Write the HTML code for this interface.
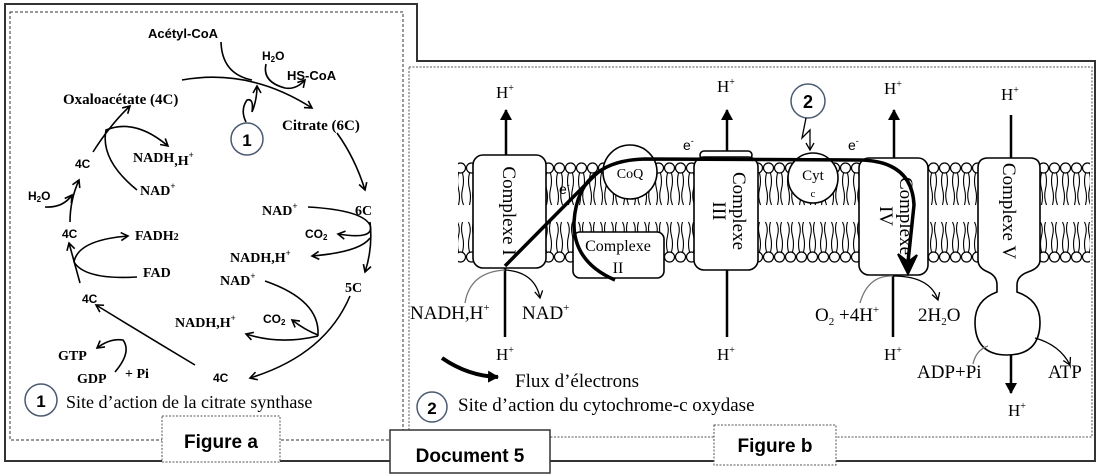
<!DOCTYPE html>
<html><head><meta charset="utf-8"><style>
html,body{margin:0;padding:0;background:#fff}
svg{display:block}
.sb{font-family:"Liberation Sans",sans-serif;font-weight:bold}
.rb{font-family:"Liberation Serif",serif;font-weight:bold}
.r{font-family:"Liberation Serif",serif}
</style></head><body>
<svg width="1100" height="476" viewBox="0 0 1100 476" xmlns="http://www.w3.org/2000/svg">
<defs>
<marker id="a" markerWidth="10" markerHeight="10" refX="8" refY="5" orient="auto" markerUnits="userSpaceOnUse"><path d="M1,1 L8,5 L1,9" fill="none" stroke="#000" stroke-width="1.6"/></marker>
<marker id="t" markerWidth="12" markerHeight="12" refX="10" refY="6" orient="auto" markerUnits="userSpaceOnUse"><path d="M0,0 L11,6 L0,12 Z" fill="#000"/></marker>
<marker id="g" markerWidth="10" markerHeight="10" refX="8" refY="5" orient="auto" markerUnits="userSpaceOnUse"><path d="M1,1 L8,5 L1,9" fill="none" stroke="#000" stroke-width="1.3"/></marker>
<pattern id="lip" x="455" y="161" width="11" height="104" patternUnits="userSpaceOnUse">
<circle cx="5.5" cy="7" r="5" fill="#fff" stroke="#000" stroke-width="1.2"/>
<path d="M3.5,12 q-2,8 0,16 q2,8 0,16 M7.5,12 q2,8 0,16 q-2,8 1,16" fill="none" stroke="#000" stroke-width="1.1"/>
<path d="M3.5,91 q-2,-8 0,-16 q2,-8 -1,-14 M7.5,91 q2,-8 0,-16 q-2,-8 0,-14" fill="none" stroke="#000" stroke-width="1.1"/>
<circle cx="5.5" cy="96" r="5" fill="#fff" stroke="#000" stroke-width="1.2"/>
</pattern>
</defs>

<path d="M5,4 L417,4 L417,61 L1095,61 L1095,461 L5,461 Z" fill="none" stroke="#333" stroke-width="2"/>
<rect x="10" y="12" width="393" height="428" fill="none" stroke="#333" stroke-width="1" stroke-dasharray="3,2"/>
<rect x="409" y="67" width="683" height="370" fill="none" stroke="#555" stroke-width="1" stroke-dasharray="2,1.5"/>
<rect x="162" y="416" width="118" height="46" fill="#fff" stroke="#555" stroke-width="1" stroke-dasharray="2,1.5"/>
<text x="221" y="448" class="sb" font-size="19" text-anchor="middle">Figure a</text>
<rect x="714" y="425" width="122" height="40" fill="#fff" stroke="#555" stroke-width="1" stroke-dasharray="2,1.5"/>
<text x="775" y="452" class="sb" font-size="19" text-anchor="middle">Figure b</text>
<rect x="390" y="430" width="160" height="43" fill="#fff" stroke="#333" stroke-width="1.5"/>
<text x="470" y="462" class="sb" font-size="19" text-anchor="middle">Document 5</text>

<g fill="#000">
<text x="148" y="38" class="sb" font-size="13">Acétyl-CoA</text>
<text x="262" y="60" class="sb" font-size="12">H<tspan font-size="8" dy="2">2</tspan><tspan dy="-2">O</tspan></text>
<text x="287" y="80" class="sb" font-size="13">HS-CoA</text>
<text x="63" y="104" class="rb" font-size="15">Oxaloacétate (4C)</text>
<text x="282" y="130" class="rb" font-size="15">Citrate (6C)</text>
<text x="75" y="168" class="sb" font-size="12">4C</text>
<text x="133" y="162" class="rb" font-size="14">NADH<tspan dy="3">,H</tspan><tspan font-size="9" dy="-7">+</tspan></text>
<text x="140" y="195" class="rb" font-size="14">NAD<tspan font-size="9" dy="-6">+</tspan></text>
<text x="28" y="200" class="sb" font-size="12">H<tspan font-size="8" dy="2">2</tspan><tspan dy="-2">O</tspan></text>
<text x="62" y="238" class="sb" font-size="12">4C</text>
<text x="135" y="240" class="rb" font-size="14">FADH<tspan font-size="10">2</tspan></text>
<text x="143" y="277" class="rb" font-size="14">FAD</text>
<text x="262" y="215" class="rb" font-size="14">NAD<tspan font-size="9" dy="-6">+</tspan></text>
<text x="355" y="215" class="rb" font-size="14">6C</text>
<text x="305" y="238" class="sb" font-size="12">CO<tspan font-size="8" dy="2">2</tspan></text>
<text x="230" y="262" class="rb" font-size="14">NADH,H<tspan font-size="9" dy="-6">+</tspan></text>
<text x="220" y="285" class="rb" font-size="14">NAD<tspan font-size="9" dy="-6">+</tspan></text>
<text x="345" y="292" class="rb" font-size="14">5C</text>
<text x="82" y="303" class="sb" font-size="12">4C</text>
<text x="175" y="327" class="rb" font-size="14">NADH,H<tspan font-size="9" dy="-6">+</tspan></text>
<text x="263" y="323" class="sb" font-size="12">CO<tspan font-size="8" dy="2">2</tspan></text>
<text x="58" y="360" class="rb" font-size="14">GTP</text>
<text x="77" y="383" class="rb" font-size="14">GDP</text>
<text x="125" y="378" class="rb" font-size="14">+ Pi</text>
<text x="213" y="382" class="sb" font-size="12">4C</text>
</g>
<circle cx="247" cy="139" r="16" fill="#fff" stroke="#4a5a70" stroke-width="1.5"/>
<text x="247" y="146" class="sb" font-size="17" text-anchor="middle">1</text>
<circle cx="41" cy="400" r="16" fill="#fff" stroke="#4a5a70" stroke-width="1.5"/>
<text x="41" y="407" class="sb" font-size="17" text-anchor="middle">1</text>
<text x="66" y="408" class="r" font-size="18">Site d’action de la citrate synthase</text>

<g fill="none" stroke="#000" stroke-width="1.6">
<path d="M182,80 Q250,68 312,108" marker-end="url(#a)"/>
<path d="M221,42 Q222,74 252,80"/>
<path d="M266,64 Q262,82 285,88 Q296,90 305,80" marker-end="url(#a)"/>
<path d="M246,122 Q240,110 247,100 Q254,98 252,112 Q257,100 257,86" marker-end="url(#a)"/>
<path d="M337,133 Q355,158 365,190" marker-end="url(#a)"/>
<path d="M370,222 Q373,248 365,272" marker-end="url(#a)"/>
<path d="M308,207 Q362,210 370,225 Q375,240 338,234" marker-end="url(#a)"/>
<path d="M370,238 Q360,252 312,256" marker-end="url(#a)"/>
<path d="M350,296 Q325,355 250,378" marker-end="url(#a)"/>
<path d="M265,281 Q320,300 318,335 Q305,330 292,320" marker-end="url(#a)"/>
<path d="M318,336 Q280,345 246,334" marker-end="url(#a)"/>
<path d="M195,365 Q145,335 96,305" marker-end="url(#a)"/>
<path d="M115,372 Q132,352 123,340 Q110,338 97,348" marker-end="url(#a)"/>
<path d="M80,283 Q75,265 69,243" marker-end="url(#a)"/>
<path d="M137,277 Q85,280 74,262 Q78,240 128,236" marker-end="url(#a)"/>
<path d="M70,222 Q70,200 79,180" marker-end="url(#a)"/>
<path d="M45,207 Q63,208 72,195" marker-end="url(#a)"/>
<path d="M93,152 Q110,125 130,106" marker-end="url(#a)"/>
<path d="M137,190 Q100,160 106,130 Q135,118 168,146" marker-end="url(#a)"/>
</g>

<rect x="458" y="161" width="632" height="104" fill="url(#lip)"/>

<g stroke="#000" stroke-width="2.5" fill="none">
<line x1="506" y1="155" x2="506" y2="110" marker-end="url(#t)"/>
<line x1="727" y1="152" x2="727" y2="110" marker-end="url(#t)"/>
<line x1="894" y1="158" x2="894" y2="110" marker-end="url(#t)"/>
<line x1="1011" y1="158" x2="1011" y2="115"/>
<line x1="505" y1="268" x2="505" y2="337"/>
<line x1="727" y1="270" x2="727" y2="337"/>
<line x1="893" y1="275" x2="893" y2="337"/>
<line x1="1011" y1="355" x2="1011" y2="393" marker-end="url(#t)"/>
</g>
<g class="r" font-size="17">
<text x="496" y="98">H<tspan font-size="10" dy="-7">+</tspan></text>
<text x="717" y="92">H<tspan font-size="10" dy="-7">+</tspan></text>
<text x="884" y="94">H<tspan font-size="10" dy="-7">+</tspan></text>
<text x="1001" y="100">H<tspan font-size="10" dy="-7">+</tspan></text>
<text x="496" y="360">H<tspan font-size="10" dy="-7">+</tspan></text>
<text x="717" y="360">H<tspan font-size="10" dy="-7">+</tspan></text>
<text x="884" y="360">H<tspan font-size="10" dy="-7">+</tspan></text>
<text x="1008" y="416">H<tspan font-size="10" dy="-7">+</tspan></text>
</g>

<g fill="#fff" stroke="#000" stroke-width="1.6">
<rect x="473" y="155" width="73" height="113" rx="10"/>
<rect x="573" y="232" width="91" height="46" rx="7"/>
<circle cx="630" cy="172" r="27"/>
<rect x="700" y="151" width="52" height="8" rx="4"/>
<rect x="694" y="157" width="64" height="113" rx="10"/>
<circle cx="813" cy="178" r="25"/>
<rect x="859" y="158" width="69" height="117" rx="10"/>
<path d="M988,158 L1030,158 Q1040,158 1040,168 L1040,260 Q1040,268 1028,272 Q1017,276 1017,285 L1017,292 Q1040,300 1040,322 Q1040,355 1007,355 Q975,355 975,322 Q975,300 997,292 L997,285 Q997,276 988,272 Q978,268 978,260 L978,168 Q978,158 988,158 Z"/>
</g>
<g class="r" font-size="19">
<text transform="translate(503,211) rotate(90)" text-anchor="middle">Complexe I</text>
<text transform="translate(733,211) rotate(90)" text-anchor="middle">Complexe</text>
<text transform="translate(713,211) rotate(90)" text-anchor="middle">III</text>
<text transform="translate(900,216) rotate(90)" text-anchor="middle">Complexe</text>
<text transform="translate(880,216) rotate(90)" text-anchor="middle">IV</text>
<text transform="translate(1003,211) rotate(90)" text-anchor="middle">Complexe V</text>
</g>
<text x="618" y="251" class="r" font-size="16" text-anchor="middle">Complexe</text>
<text x="618" y="273" class="r" font-size="16" text-anchor="middle">II</text>
<text x="630" y="178" class="r" font-size="14" text-anchor="middle">CoQ</text>
<text x="813" y="180" class="r" font-size="15" text-anchor="middle">Cyt</text>
<text x="813" y="197" class="r" font-size="11" text-anchor="middle">c</text>

<g fill="none" stroke="#000" stroke-width="3.5" stroke-linejoin="round">
<path d="M505,266 L594,176 Q610,160 645,159 L860,160 Q912,161 914,205 L908,262"/>
<path d="M615,280 Q573,262 574,222 Q576,188 598,172"/>
</g>
<path d="M898,254 L908,274 L917,255 L908,262 Z" fill="#000" stroke="#000" stroke-width="2"/>
<text x="683" y="150" font-family="Liberation Sans, sans-serif" font-size="14">e<tspan font-size="9" dy="-6">-</tspan></text>
<text x="848" y="150" font-family="Liberation Sans, sans-serif" font-size="14">e<tspan font-size="9" dy="-6">-</tspan></text>
<text x="559" y="194" font-family="Liberation Sans, sans-serif" font-size="14">e<tspan font-size="9" dy="-6">-</tspan></text>

<circle cx="808" cy="101" r="17" fill="#fff" stroke="#4a5a70" stroke-width="1.5"/>
<text x="808" y="108" class="sb" font-size="18" text-anchor="middle">2</text>
<path d="M806,118 L802,138 L810,130 L810,150" fill="none" stroke="#000" stroke-width="1.3" marker-end="url(#g)"/>

<g fill="none" stroke="#777" stroke-width="1.3">
<path d="M465,303 Q470,272 505,270"/>
<path d="M505,270 Q535,272 540,298" stroke="#000" marker-end="url(#g)"/>
<path d="M860,303 Q868,275 893,276"/>
<path d="M893,276 Q930,276 938,300" stroke="#000" marker-end="url(#g)"/>
<path d="M973,364 Q976,350 988,346"/>
<path d="M1035,338 Q1060,345 1070,365" stroke="#000" marker-end="url(#g)"/>
</g>
<g class="r" font-size="19">
<text x="410" y="319">NADH,H<tspan font-size="11" dy="-8">+</tspan></text>
<text x="522" y="319">NAD<tspan font-size="11" dy="-8">+</tspan></text>
<text x="815" y="321">O<tspan font-size="11" dy="4">2</tspan><tspan dy="-4"> +4H</tspan><tspan font-size="11" dy="-8">+</tspan></text>
<text x="918" y="321">2H<tspan font-size="11" dy="4">2</tspan><tspan dy="-4">O</tspan></text>
<text x="917" y="378">ADP+Pi</text>
<text x="1048" y="378">ATP</text>
</g>

<path d="M442,358 Q468,376 498,377" fill="none" stroke="#000" stroke-width="4" marker-end="url(#t)"/>
<text x="515" y="387" class="r" font-size="19">Flux d’électrons</text>
<circle cx="432" cy="407" r="15" fill="#fff" stroke="#4a5a70" stroke-width="1.5"/>
<text x="432" y="414" class="sb" font-size="17" text-anchor="middle">2</text>
<text x="458" y="411" class="r" font-size="19">Site d’action du cytochrome-c oxydase</text>
</svg>
</body></html>
